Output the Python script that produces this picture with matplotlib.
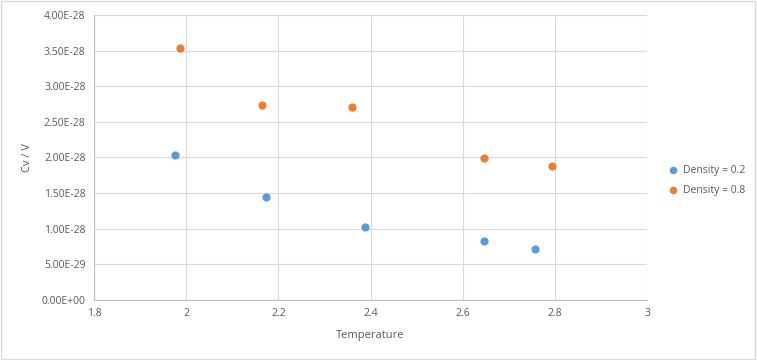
import matplotlib.pyplot as plt
from matplotlib.patches import Rectangle

# readings
temp_low = [1.976, 2.173, 2.388, 2.646, 2.757]
cv_low = [2.035e-28, 1.446e-28, 1.025e-28, 0.83e-28, 0.716e-28]
temp_high = [1.987, 2.165, 2.360, 2.646, 2.794]
cv_high = [3.54e-28, 2.74e-28, 2.71e-28, 1.99e-28, 1.88e-28]

x_ticks = [1.8, 2.0, 2.2, 2.4, 2.6, 2.8, 3.0]
x_labels = ["1.8", "2", "2.2", "2.4", "2.6", "2.8", "3"]
y_ticks = [i * 0.5e-28 for i in range(9)]
y_labels = ["0.00E+00", "5.00E-29", "1.00E-28", "1.50E-28", "2.00E-28",
            "2.50E-28", "3.00E-28", "3.50E-28", "4.00E-28"]

plt.rcParams["font.family"] = ["Open Sans", "DejaVu Sans"]
text_color = "#595959"
grid_color = "#d9d9d9"

fig = plt.figure(figsize=(7.57, 3.6), dpi=100)
fig.patches.append(Rectangle((0.001, 0.002), 0.997, 0.995, transform=fig.transFigure,
                             fill=False, edgecolor="#d9d9d9", linewidth=1))
ax = fig.add_axes([0.124, 0.167, 0.731, 0.791])

ax.scatter(temp_low, cv_low, s=24, color="#5b9bd5", label="Density = 0.2", zorder=3)
ax.scatter(temp_high, cv_high, s=24, color="#ed7d31", label="Density = 0.8", zorder=3)

ax.set_xlim(1.8, 3.0)
ax.set_ylim(0, 4e-28)
ax.set_xticks(x_ticks)
ax.set_xticklabels(x_labels)
ax.set_yticks(y_ticks)
ax.set_yticklabels(y_labels)
ax.tick_params(length=0, labelsize=7.5, colors=text_color, pad=6)
ax.grid(True, color=grid_color, linewidth=0.8)
ax.set_axisbelow(True)
for side in ["top", "right"]:
    ax.spines[side].set_visible(False)
for side in ["left", "bottom"]:
    ax.spines[side].set_color("#bfbfbf")

ax.set_xlabel("Temperature", fontsize=8, color=text_color, labelpad=8)
ax.set_ylabel("Cv / V", fontsize=8, color=text_color, labelpad=6)

ax.legend(loc="center left", bbox_to_anchor=(1.01, 0.42), frameon=False,
          fontsize=7.5, labelcolor=text_color, handletextpad=0.0,
          markerscale=0.9, labelspacing=0.9)

fig.savefig("out.png", dpi=100)
